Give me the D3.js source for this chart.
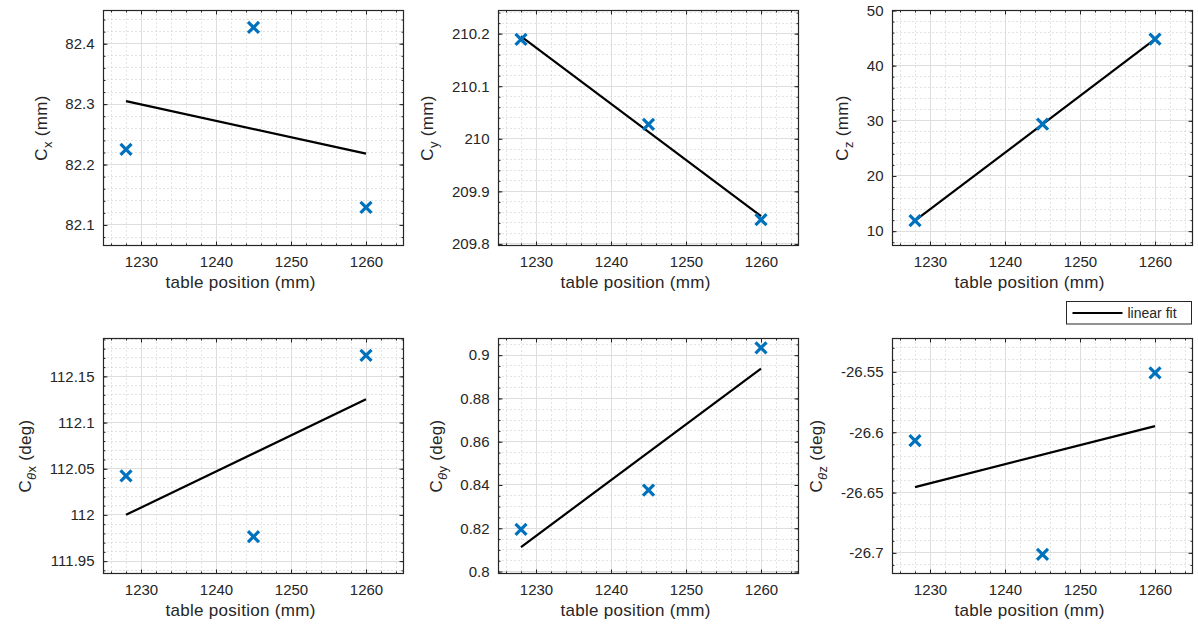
<!DOCTYPE html>
<html>
<head>
<meta charset="utf-8">
<script src="https://cdn.jsdelivr.net/npm/d3@7"></script>
<style>
  body { margin: 0; background: #fff; }
  text { font-family: "Liberation Sans", Arial, Helvetica, sans-serif; fill: #262626; }
</style>
</head>
<body>
<div id="chart"></div>
<script>
// measured table positions (mm)
const tablePos = [1228, 1245, 1260]
const fitPos = [1228, 1260]
const xTicks = [1230, 1240, 1250, 1260]
const xDomain = [1225, 1265]
const xMinor = 2

const cx = [82.225, 82.427, 82.129]
const cxFit = [82.305, 82.218]
const cxTicks = [82.1, 82.2, 82.3, 82.4]
const cxDomain = [82.066, 82.455]

const cy = [210.189, 210.0275, 209.846]
const cyFit = [210.195, 209.853]
const cyTicks = [209.8, 209.9, 210, 210.1, 210.2]
const cyDomain = [209.797, 210.244]

const cz = [11.9, 29.4, 44.8]
const czFit = [11.9, 44.8]
const czTicks = [10, 20, 30, 40, 50]
const czDomain = [7.4, 50]

const ctx = [112.0423, 111.9764, 112.1728]
const ctxFit = [112.0001, 112.1252]
const ctxTicks = [111.95, 112, 112.05, 112.1, 112.15]
const ctxDomain = [111.9366, 112.191]

const cty = [0.8195, 0.8376, 0.9034]
const ctyFit = [0.8113, 0.8938]
const ctyTicks = [0.8, 0.82, 0.84, 0.86, 0.88, 0.9]
const ctyDomain = [0.7991, 0.9077]

const ctz = [-26.6069, -26.7013, -26.5508]
const ctzFit = [-26.6455, -26.5949]
const ctzTicks = [-26.7, -26.65, -26.6, -26.55]
const ctzDomain = [-26.7171, -26.5223]

const panels = [
  { sub: 'x', theta: false, unit: 'mm', vals: cx, fit: cxFit, ticks: cxTicks, domain: cxDomain, minor: 0.02 },
  { sub: 'y', theta: false, unit: 'mm', vals: cy, fit: cyFit, ticks: cyTicks, domain: cyDomain, minor: 0.02 },
  { sub: 'z', theta: false, unit: 'mm', vals: cz, fit: czFit, ticks: czTicks, domain: czDomain, minor: 2 },
  { sub: 'x', theta: true, unit: 'deg', vals: ctx, fit: ctxFit, ticks: ctxTicks, domain: ctxDomain, minor: 0.01 },
  { sub: 'y', theta: true, unit: 'deg', vals: cty, fit: ctyFit, ticks: ctyTicks, domain: ctyDomain, minor: 0.005 },
  { sub: 'z', theta: true, unit: 'deg', vals: ctz, fit: ctzFit, ticks: ctzTicks, domain: ctzDomain, minor: 0.01 }
]

let width = 1198
let height = 624
let colLeft = [103.5, 498.5, 892.5]
let rowTop = [10.5, 338.5]
let plotW = 300
let plotH = 235
let blue = '#0072bd'

let svg = d3.select('#chart')
  .append('svg')
  .attr('width', width)
  .attr('height', height)

svg.append('rect')
  .attr('width', width)
  .attr('height', height)
  .attr('fill', '#ffffff')

let fmt = d => String(+d.toFixed(6))

function minorValues (domain, step) {
  let lo = Math.ceil(domain[0] / step - 1e-9)
  let hi = Math.floor(domain[1] / step + 1e-9)
  return d3.range(lo, hi + 1).map(k => +(k * step).toFixed(8))
}

let x = d3.scaleLinear().domain(xDomain).range([0, plotW])
let xMinorVals = minorValues(xDomain, xMinor)

panels.forEach((p, i) => {
  let g = svg.append('g')
    .attr('transform', 'translate(' + colLeft[i % 3] + ',' + rowTop[Math.floor(i / 3)] + ')')

  let y = d3.scaleLinear().domain(p.domain).range([plotH, 0])
  let yMinorVals = minorValues(p.domain, p.minor)
  let snap = v => Math.round(v)

  g.append('rect')
    .attr('width', plotW)
    .attr('height', plotH)
    .attr('fill', '#ffffff')

  // minor grid (dotted)
  let grid = g.append('g').attr('class', 'grid')
  grid.selectAll('line.mx')
    .data(xMinorVals)
    .enter()
    .append('line')
    .attr('x1', d => snap(x(d)))
    .attr('x2', d => snap(x(d)))
    .attr('y1', 0)
    .attr('y2', plotH)
    .attr('stroke', '#c8c8c8')
    .attr('stroke-dasharray', '1,3')
  grid.selectAll('line.my')
    .data(yMinorVals)
    .enter()
    .append('line')
    .attr('y1', d => snap(y(d)))
    .attr('y2', d => snap(y(d)))
    .attr('x1', 0)
    .attr('x2', plotW)
    .attr('stroke', '#c8c8c8')
    .attr('stroke-dasharray', '1,3')

  // major grid
  grid.selectAll('line.gx')
    .data(xTicks)
    .enter()
    .append('line')
    .attr('x1', d => snap(x(d)))
    .attr('x2', d => snap(x(d)))
    .attr('y1', 0)
    .attr('y2', plotH)
    .attr('stroke', '#dedede')
  grid.selectAll('line.gy')
    .data(p.ticks)
    .enter()
    .append('line')
    .attr('y1', d => snap(y(d)))
    .attr('y2', d => snap(y(d)))
    .attr('x1', 0)
    .attr('x2', plotW)
    .attr('stroke', '#dedede')

  // linear fit
  g.append('path')
    .datum(fitPos.map((v, k) => [v, p.fit[k]]))
    .attr('fill', 'none')
    .attr('stroke', '#000000')
    .attr('stroke-width', 2.2)
    .attr('d', d3.line().x(d => x(d[0])).y(d => y(d[1])))

  // x markers
  let s = 5.5
  g.selectAll('path.mark')
    .data(tablePos.map((v, k) => [v, p.vals[k]]))
    .enter()
    .append('path')
    .attr('class', 'mark')
    .attr('fill', 'none')
    .attr('stroke', blue)
    .attr('stroke-width', 3.2)
    .attr('d', d => {
      let cxp = x(d[0])
      let cyp = y(d[1])
      return 'M' + (cxp - s) + ',' + (cyp - s) + 'L' + (cxp + s) + ',' + (cyp + s) +
        'M' + (cxp - s) + ',' + (cyp + s) + 'L' + (cxp + s) + ',' + (cyp - s)
    })

  // axes
  g.append('g').attr('transform', 'translate(0,' + plotH + ')')
    .call(d3.axisBottom(x).tickValues(xTicks).tickSize(-4).tickPadding(11).tickFormat(fmt))
  g.append('g')
    .call(d3.axisTop(x).tickValues(xTicks).tickSize(-4).tickFormat(''))
  let axL = g.append('g')
    .call(d3.axisLeft(y).tickValues(p.ticks).tickSize(-4).tickPadding(9).tickFormat(fmt))
  g.append('g').attr('transform', 'translate(' + plotW + ',0)')
    .call(d3.axisRight(y).tickValues(p.ticks).tickSize(-4).tickFormat(''))
  g.append('g').attr('transform', 'translate(0,' + plotH + ')')
    .call(d3.axisBottom(x).tickValues(xMinorVals).tickSize(-2).tickFormat(''))
  g.append('g')
    .call(d3.axisTop(x).tickValues(xMinorVals).tickSize(-2).tickFormat(''))
  g.append('g')
    .call(d3.axisLeft(y).tickValues(yMinorVals).tickSize(-2).tickFormat(''))
  g.append('g').attr('transform', 'translate(' + plotW + ',0)')
    .call(d3.axisRight(y).tickValues(yMinorVals).tickSize(-2).tickFormat(''))

  g.selectAll('.domain').remove()
  g.selectAll('.tick line').attr('stroke', '#262626')
  g.selectAll('.tick text')
    .style('font-size', '15px')
    .style('font-family', '"Liberation Sans", Arial, sans-serif')
    .attr('fill', '#262626')

  // box
  g.append('rect')
    .attr('width', plotW)
    .attr('height', plotH)
    .attr('fill', 'none')
    .attr('stroke', '#262626')
    .attr('stroke-width', 1.2)

  // x label
  g.append('text')
    .attr('x', plotW / 2 - 13)
    .attr('y', plotH + 42)
    .attr('text-anchor', 'middle')
    .style('font-size', '17px')
    .style('letter-spacing', '0.3px')
    .text('table position (mm)')

  // y label, placed left of the tick labels
  let bb = axL.node().getBBox()
  let lab = g.append('text')
    .attr('transform', 'translate(' + (bb.x - 18.5) + ',' + (plotH / 2) + ') rotate(-90)')
    .attr('text-anchor', 'middle')
    .style('font-size', '17px')
    .style('letter-spacing', '0.3px')
  lab.append('tspan').text('C')
  let sub = lab.append('tspan')
    .attr('dy', 5)
    .style('font-size', '13px')
  if (p.theta) {
    sub.append('tspan').style('font-style', 'italic').text('θ')
  }
  sub.append('tspan').text(p.sub)
  lab.append('tspan')
    .attr('dy', -5)
    .text('\u00a0(' + p.unit + ')')
})

// legend
let leg = svg.append('g').attr('transform', 'translate(1066.5,301.5)')
leg.append('rect')
  .attr('width', 125)
  .attr('height', 22.5)
  .attr('fill', '#ffffff')
  .attr('stroke', '#262626')
leg.append('line')
  .attr('x1', 6)
  .attr('x2', 56)
  .attr('y1', 11.5)
  .attr('y2', 11.5)
  .attr('stroke', '#000000')
  .attr('stroke-width', 2.2)
leg.append('text')
  .attr('x', 61)
  .attr('y', 16.5)
  .style('font-size', '14px')
  .text('linear fit')
</script>
</body>
</html>
